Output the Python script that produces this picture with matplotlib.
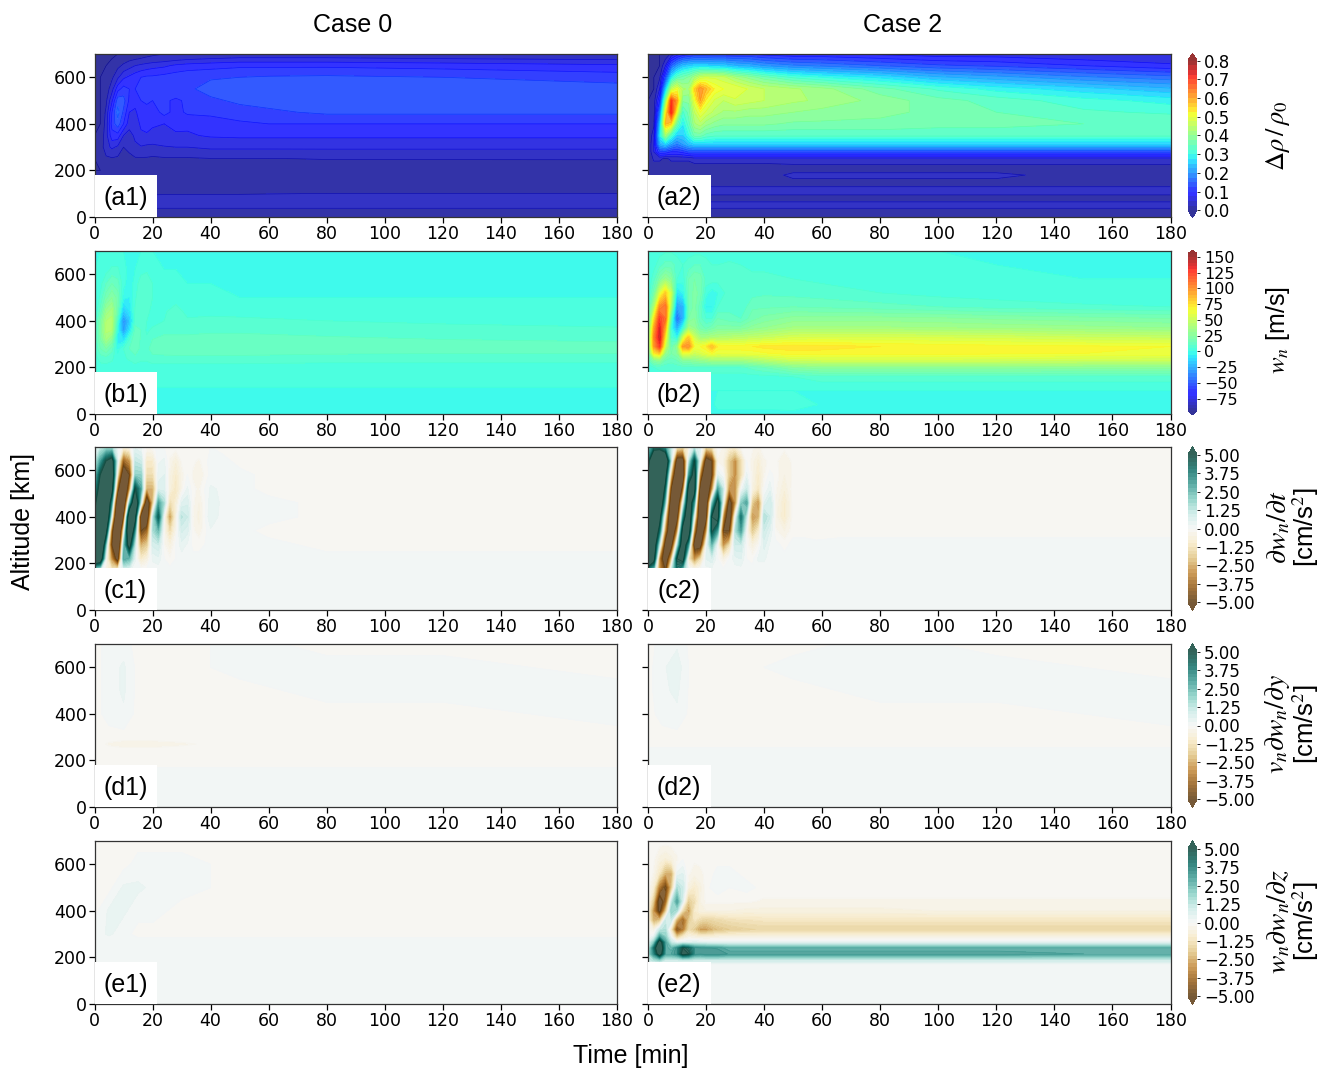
import numpy as np
import matplotlib
matplotlib.use('Agg')
import matplotlib.pyplot as plt
from matplotlib.colors import ListedColormap
from matplotlib.patches import Rectangle

plt.rcParams['mathtext.fontset'] = 'stix'

# values, rows go from the top of the panel down
t_a1 = [0,2,4,6,8,10,12,14,16,18,20,24,28,32,40,50,60,80,120,180]
z_a1 = [700,680,650,600,550,500,450,400,350,300,250,200,130,90,40,0]
a1 = [
 [0,0,0,0,0,0,.005,.01,.015,.02,.022,.025,.026,.028,.03,.03,.03,.03,.03,.03],
 [0,0,0,0,.005,.012,.018,.022,.026,.028,.03,.035,.04,.045,.05,.055,.055,.055,.05,.045],
 [0,0,0,.005,.018,.03,.04,.05,.055,.06,.065,.07,.08,.085,.09,.095,.095,.095,.09,.08],
 [0,0,.005,.02,.045,.07,.08,.09,.1,.105,.105,.11,.115,.12,.122,.125,.128,.13,.125,.115],
 [0,0,.01,.04,.09,.11,.1,.1,.115,.115,.118,.12,.12,.12,.135,.14,.14,.14,.14,.135],
 [0,0,.02,.07,.14,.135,.095,.085,.1,.105,.1,.105,.095,.105,.12,.13,.135,.14,.14,.14],
 [0,0,.03,.1,.16,.12,.075,.07,.09,.09,.085,.11,.09,.105,.105,.115,.12,.13,.13,.13],
 [0,0,.035,.11,.14,.1,.06,.06,.08,.09,.08,.075,.085,.08,.09,.095,.1,.1,.1,.1],
 [0,.005,.04,.09,.09,.05,.04,.055,.07,.07,.065,.07,.07,.072,.078,.08,.08,.08,.08,.08],
 [0,.01,.04,.055,.045,.025,.03,.045,.048,.045,.045,.048,.05,.05,.055,.055,.055,.055,.055,.055],
 [0,.012,.02,.022,.02,.018,.02,.022,.022,.022,.02,.022,.022,.022,.024,.024,.024,.026,.026,.026],
 [0,0,.005,.005,.005,.005,.005,.005,.005,.005,.005,.005,.005,.005,.008,.01,.01,.01,.012,.014],
 [.01,.01,.01,.01,.012,.012,.012,.012,.012,.012,.012,.014,.014,.014,.016,.016,.018,.02,.02,.02],
 [.02,.02,.02,.02,.027,.027,.027,.027,.027,.027,.027,.027,.027,.027,.027,.027,.027,.027,.027,.027],
 [.02,.02,.02,.02,.026,.026,.026,.026,.026,.026,.026,.026,.026,.026,.026,.026,.026,.026,.026,.026],
 [.01,.01,.01,.01,.01,.01,.01,.01,.01,.01,.01,.01,.01,.01,.01,.01,.01,.01,.01,.01],
]

t_a2 = [0,2,4,6,8,10,12,14,16,18,20,23,26,30,35,40,50,60,80,100,120,150,180]
z_a2 = [700,650,600,550,500,450,400,350,310,280,250,210,180,150,110,80,50,0]
a2 = [
 [0,0,0,.005,.03,.06,.08,.09,.1,.1,.1,.1,.1,.1,.1,.09,.08,.08,.07,.06,.06,.05,.05],
 [0,0,0,.05,.15,.2,.24,.25,.26,.26,.26,.25,.25,.23,.22,.2,.18,.17,.15,.13,.12,.1,.08],
 [0,0,.02,.13,.28,.34,.36,.38,.42,.46,.47,.47,.46,.42,.39,.36,.32,.3,.27,.23,.21,.18,.16],
 [0,0,.05,.25,.45,.5,.43,.42,.55,.62,.58,.52,.5,.5,.47,.45,.43,.41,.36,.32,.29,.26,.23],
 [0,.01,.1,.4,.7,.6,.38,.38,.5,.6,.52,.47,.45,.47,.46,.45,.43,.42,.39,.36,.34,.31,.29],
 [0,.01,.17,.52,.72,.5,.32,.36,.45,.5,.47,.44,.42,.42,.41,.41,.4,.39,.38,.37,.35,.33,.32],
 [0,.02,.24,.58,.55,.36,.28,.34,.42,.44,.41,.39,.38,.38,.38,.38,.37,.37,.37,.36,.36,.35,.35],
 [0,.04,.28,.42,.32,.25,.25,.3,.36,.36,.34,.33,.33,.33,.33,.33,.33,.33,.33,.33,.33,.33,.33],
 [0,.05,.22,.25,.2,.17,.2,.23,.25,.25,.25,.25,.25,.25,.25,.25,.25,.25,.25,.25,.25,.25,.25],
 [0,.05,.12,.12,.1,.1,.11,.13,.13,.13,.13,.13,.13,.13,.13,.13,.13,.13,.13,.13,.13,.13,.13],
 [0,.03,.03,.02,.03,.03,.03,.03,.04,.04,.04,.04,.04,.04,.04,.04,.04,.04,.04,.04,.04,.04,.04],
 [0,.01,.01,.01,.01,.01,.01,.01,.01,.01,.01,.01,.01,.01,.01,.01,.015,.015,.015,.015,.015,.015,.015],
 [0,.015,.015,.015,.015,.015,.015,.015,.015,.015,.015,.015,.015,.015,.015,.015,.03,.03,.03,.03,.03,.015,.015],
 [.02,.02,.02,.02,.02,.02,.02,.02,.02,.02,.02,.02,.02,.02,.02,.02,.02,.02,.02,.02,.02,.02,.02],
 [.03,.03,.03,.03,.03,.03,.03,.03,.03,.03,.03,.03,.03,.03,.03,.03,.03,.03,.03,.03,.03,.03,.03],
 [.02,.02,.02,.02,.02,.02,.02,.02,.02,.02,.02,.02,.02,.02,.02,.02,.02,.02,.02,.02,.02,.02,.02],
 [.03,.03,.03,.03,.03,.03,.03,.03,.03,.03,.03,.03,.03,.03,.03,.03,.03,.03,.03,.03,.03,.03,.03],
 [.01,.01,.01,.01,.01,.01,.01,.01,.01,.01,.01,.01,.01,.01,.01,.01,.01,.01,.01,.01,.01,.01,.01],
]

t_b1 = [0,2,4,6,8,10,12,14,16,18,20,24,28,32,40,50,80,120,180]
z_b1 = [700,620,560,500,440,400,360,320,280,240,200,150,80,30,0]
b1 = [
 [0,0,0,0,0,0,0,0,0,0,0,0,0,0,0,0,0,0,0],
 [0,1,3,6,6,1,-1,0,3,4,3,0,0,0,0,0,0,0,0],
 [0,3,10,15,12,2,-3,2,8,9,5,1,1,0,0,0,0,0,0],
 [0,6,18,25,18,-3,-5,4,10,10,5,1,2,1,1,0,0,0,0],
 [0,12,32,38,15,-18,-10,6,10,7,3,4,8,3,3,2,2,1,1],
 [2,20,40,42,5,-35,-18,8,10,5,3,5,9,6,7,7,5,4,3],
 [3,22,42,40,-2,-30,-10,12,10,4,6,8,8,8,9,9,8,7,6],
 [4,20,35,25,-8,-10,5,15,9,6,10,12,12,12,12,12,11,10,9],
 [4,15,20,12,-2,5,10,14,8,8,13,14,15,15,15,15,14,13,13],
 [3,7,8,6,2,4,6,8,6,6,8,8,8,8,8,8,7,7,7],
 [2,3,3,3,2,2,2,3,3,3,3,3,3,3,3,3,3,3,3],
 [1,1,1,1,1,1,1,1,1,1,1,1,1,1,1,1,1,1,1],
 [-1,-1,-1,-1,-1,-1,-1,-1,-1,-1,-1,-1,-1,-1,-1,-1,-1,-1,-1],
 [-3,-3,-3,-3,-3,-3,-3,-3,-3,-3,-3,-2,-3,-3,-3,-3,-3,-3,-3],
 [-2,-2,-2,-2,-2,-2,-2,-2,-2,-2,-2,-2,-2,-2,-2,-2,-2,-2,-2],
]

t_b2 = [0,2,4,6,8,10,12,14,16,18,20,22,24,28,32,36,40,50,60,80,100,120,150,180]
z_b2 = [700,640,580,520,460,410,370,330,290,260,230,200,160,100,40,0]
b2 = [
 [0,1,3,4,4,3,3,3,3,3,3,3,2,2,2,2,2,1,1,0,0,0,0,0],
 [0,3,8,12,12,8,5,7,10,10,7,5,5,6,5,4,4,3,3,2,1,0,0,0],
 [0,8,22,32,25,5,2,15,20,18,8,8,7,7,6,6,6,5,4,3,2,1,0,0],
 [0,18,55,80,50,-10,-5,15,22,18,2,-3,0,8,8,8,9,8,7,5,3,2,1,1],
 [5,40,100,110,40,-30,-25,15,22,12,-5,-5,5,8,6,14,14,15,14,12,10,8,6,5],
 [10,70,125,110,15,-45,-25,20,25,12,5,5,15,12,10,18,22,27,27,27,26,24,22,20],
 [15,90,135,90,0,-25,0,35,30,18,14,18,22,22,22,27,30,36,36,36,35,34,32,30],
 [20,100,140,70,5,-5,50,80,50,35,35,38,40,42,44,46,48,54,55,55,54,53,50,48],
 [20,95,125,50,15,30,95,100,65,65,70,85,70,68,68,70,72,73,72,70,68,67,66,65],
 [15,70,80,30,20,25,60,60,50,55,60,65,60,62,62,62,64,68,68,68,67,66,65,64],
 [8,25,30,15,12,15,25,25,28,30,32,35,35,35,35,38,42,50,52,52,52,52,50,50],
 [3,5,6,6,6,7,7,7,8,8,8,8,8,8,8,12,15,25,28,28,28,28,27,27],
 [3,3,3,3,3,3,3,3,3,3,3,3,3,3,3,3,3,5,8,8,8,8,8,8],
 [0,0,0,0,0,0,0,0,0,0,0,0,0,0,0,0,0,0,0,0,0,0,0,0],
 [-2,-2,-2,-2,-2,-2,-2,-2,-2,-2,-2,-2,3,3,3,3,3,5,-1,-2,-2,-2,-2,-2],
 [-3,-3,-3,-3,-3,-3,-3,-3,-3,-3,-3,-3,-3,-3,-3,-3,-3,-3,-3,-3,-3,-3,-3,-3],
]

t_c1 = [0,2,4,6,8,10,12,14,16,18,20,22,24,26,28,30,32,34,36,40,44,50,60,80,120,180]
z_c = [700,640,580,520,460,400,340,280,220,170,100,0]
c1 = [
 [.5,1,1.5,1.5,.2,-.5,-.3,.4,.2,-.2,-.1,.1,0,-.1,-.1,0,0,-.1,0,0,-.1,-.1,-.1,-.1,-.1,-.1],
 [1,3,5,6,.5,-4,-3,1.2,1,-1,-1,.2,.3,-.3,-.7,-.2,0,-.2,-.3,.1,.1,-.1,-.1,-.1,-.1,-.1],
 [2,5,7,7,-1,-7,-5,2,2,-1.5,-1.5,.4,.5,-.5,-1,-.4,0,-.3,-.5,.1,.2,.1,-.1,-.1,-.1,-.1],
 [3,6,8,6,-4,-9,-3,5,3,-2.5,-2.5,.6,.6,-.6,-1.2,-.3,.3,-.2,-.3,.3,.2,.1,-.1,-.1,-.1,-.1],
 [4,8,9,3,-8,-8,2,8,1,-7,-2,3,1.5,-1.5,-.8,.5,.7,-.2,-.5,.4,.2,.1,.1,-.1,-.1,-.1],
 [5,10,9,0,-10,-5,8,6,-6,-7,1,4.5,0,-2.8,-.5,1.3,1,-.3,-.6,.5,.1,.1,.1,-.1,-.1,-.1],
 [7,10,6,-4,-10,-1,9,3,-5,-4,1.5,2.5,-.3,-1.5,-.3,.8,.6,-.2,-.4,.2,.1,.1,-.1,-.1,-.1,-.1],
 [9,10,2,-5,-9,2,6,1,-2.5,-2,.8,1,-.2,-.6,0,.4,.2,-.1,-.1,.1,.1,.1,.1,-.1,-.1,-.1],
 [8,7,0,-3,-6,3,2.5,.3,-1,-.6,.3,.4,0,-.2,0,.1,.1,.1,.1,.1,.1,.1,.1,.1,.1,.1],
 [1,.5,-.5,-1,-.5,.5,.3,.1,.1,.1,.1,.1,.1,.1,.1,.1,.1,.1,.1,.1,.1,.1,.1,.1,.1,.1],
 [.1,.1,.1,.1,.1,.1,.1,.1,.1,.1,.1,.1,.1,.1,.1,.1,.1,.1,.1,.1,.1,.1,.1,.1,.1,.1],
 [.1,.1,.1,.1,.1,.1,.1,.1,.1,.1,.1,.1,.1,.1,.1,.1,.1,.1,.1,.1,.1,.1,.1,.1,.1,.1],
]

t_c2 = [0,2,4,6,8,10,12,14,16,18,20,22,24,26,28,30,32,34,36,38,40,42,44,47,50,54,58,66,80,120,180]
c2 = [
 [2,4,4,3,1,-1,-1.5,-.5,1,.5,-1.5,-1.2,-.1,-.3,-.8,-.8,-.2,0,-.2,-.3,-.1,-.1,-.1,-.2,-.1,-.1,-.1,-.1,-.1,-.1,-.1],
 [4,8,9,8,1,-6,-6,1,5,0,-6,-5,-.3,-.5,-2,-3,-1.5,0,-.4,-.8,-.3,-.2,-.2,-.4,-.2,-.2,-.2,-.2,-.1,-.1,-.1],
 [5,9,9,6,-2,-8,-7,3,6,-3,-8,-5,.5,0,-2,-3,-1.5,.3,-.4,-1,-.3,.1,-.1,-.5,-.2,-.2,-.2,-.2,-.1,-.1,-.1],
 [6,9,9,4,-5,-9,-4,6,6,-6,-8,-3,3,1,-3,-3,0,1,-.5,-1.2,0,.4,-.2,-.7,-.1,-.2,-.2,-.2,-.1,-.1,-.1],
 [7,9,8,2,-7,-8,0,7,3,-8,-7,2,6,0,-6,-3,2,3,-2,-3,.5,1,-.3,-1,-.1,-.2,-.2,-.2,-.1,-.1,-.1],
 [8,9,6,-1,-8,-6,3,8,0,-8,-6,5,6,-3,-7,0,4,1,-3,-2.5,1.5,1,-.4,-1,-.1,-.2,-.2,-.2,-.1,-.1,-.1],
 [9,8,4,-3,-8,-3,6,7,-3,-8,-3,5,3,-5,-5,1.5,3,0,-2,-1,1,.5,-.2,-.5,-.1,-.1,-.2,-.1,-.1,-.1,-.1],
 [9,7,1,-6,-6,1,7,3,-6,-6,0,2.5,0,-3,-1.5,1,1,-.1,-.6,-.2,.6,.2,.1,-.1,.1,.1,.1,.1,.1,.1,.1],
 [9,6,-3,-7,-2,5,6,-1,-3,-1.5,.5,.7,0,-.5,0,.4,.5,0,-.1,.3,.3,.1,.1,.1,.1,.1,.1,.1,.1,.1,.1],
 [3,2,-3,-5,1,4,2,.1,.1,.1,.1,.1,.1,.1,.1,.1,.1,.1,.1,.1,.1,.1,.1,.1,.1,.1,.1,.1,.1,.1,.1],
 [.1,.1,.1,.1,.1,.1,.1,.1,.1,.1,.1,.1,.1,.1,.1,.1,.1,.1,.1,.1,.1,.1,.1,.1,.1,.1,.1,.1,.1,.1,.1],
 [.1,.1,.1,.1,.1,.1,.1,.1,.1,.1,.1,.1,.1,.1,.1,.1,.1,.1,.1,.1,.1,.1,.1,.1,.1,.1,.1,.1,.1,.1,.1],
]

t_d = [0,5,10,15,20,30,50,80,120,180]
z_d = [700,600,500,400,300,270,240,100,0]
d1 = [
 [-.1,.1,.1,-.1,-.1,-.1,.1,-.1,-.1,-.1],
 [-.1,.1,.3,-.1,-.1,-.1,.1,.1,.1,-.1],
 [-.1,.1,.3,-.1,-.1,-.1,-.1,.1,.1,.1],
 [-.1,.1,.2,-.1,-.1,-.1,-.1,-.1,-.1,.1],
 [-.1,-.1,-.1,-.1,-.1,-.1,-.1,-.1,-.1,-.1],
 [-.1,-.3,-.4,-.4,-.4,-.3,-.1,-.1,-.1,-.1],
 [-.1,-.1,-.1,-.1,-.1,-.1,-.1,-.1,-.1,-.1],
 [.1,.1,.1,.1,.1,.1,.1,.1,.1,.1],
 [.1,.1,.1,.1,.1,.1,.1,.1,.1,.1],
]
d2 = [
 [-.1,.1,.2,-.1,-.1,-.1,-.1,.1,-.1,-.1],
 [-.1,.2,.4,-.1,-.1,-.1,.1,.1,.1,-.1],
 [-.1,.2,.3,-.1,-.1,-.1,-.1,.1,.1,.1],
 [-.1,.1,.2,-.1,-.1,-.1,-.1,-.1,-.1,.1],
 [-.1,-.1,-.1,-.1,-.1,-.1,-.1,-.1,-.1,-.1],
 [-.1,-.1,-.1,-.1,-.1,-.1,-.1,-.1,-.1,-.1],
 [.1,.1,.1,.1,.1,.1,.1,.1,.1,.1],
 [.1,.1,.1,.1,.1,.1,.1,.1,.1,.1],
 [.1,.1,.1,.1,.1,.1,.1,.1,.1,.1],
]
e1 = [
 [-.1,-.1,-.1,-.1,-.1,-.1,-.1,-.1,-.1,-.1],
 [-.1,-.1,-.1,.1,.1,.1,-.1,-.1,-.1,-.1],
 [-.1,-.1,.3,.3,.2,.1,-.1,-.1,-.1,-.1],
 [-.1,.3,.3,.1,.1,-.1,-.1,-.1,-.1,-.1],
 [.1,.3,.1,-.1,-.1,-.1,-.1,-.1,-.1,-.1],
 [.1,.1,.1,.1,.1,.1,.1,.1,.1,.1],
 [.1,.1,.1,.1,.1,.1,.1,.1,.1,.1],
 [.1,.1,.1,.1,.1,.1,.1,.1,.1,.1],
 [.1,.1,.1,.1,.1,.1,.1,.1,.1,.1],
]

t_e2 = [0,2,4,6,8,10,12,14,16,18,20,24,28,34,40,50,60,80,100,120,150,180]
z_e2 = [700,620,560,500,440,400,360,320,290,265,240,215,190,170,100,0]
e2 = [
 [0,-.1,-.1,-.1,-.1,-.1,-.1,-.1,-.1,-.1,-.1,-.1,-.1,-.1,-.1,-.1,-.1,-.1,-.1,-.1,-.1,-.1],
 [0,-.2,-.6,-.8,-.6,-.3,0,-.1,-.2,-.2,-.2,-.1,-.1,-.1,-.1,-.1,-.1,-.1,-.1,-.1,-.1,-.1],
 [0,-.3,-1.2,-2.5,-2.5,.3,.5,-.2,-.4,-.3,-.2,.1,.1,-.1,-.1,-.1,-.1,-.1,-.1,-.1,-.1,-.1],
 [-.1,-.8,-3.5,-5,-2,1.5,1,-.6,-1,-.6,-.1,.2,0,.1,-.1,-.1,-.1,-.1,-.1,-.1,-.1,-.1],
 [-.2,-2,-6,-4,1,3,.5,-2,-1.5,-.5,-.2,-.2,-.2,-.2,-.3,-.3,-.3,-.3,-.3,-.3,-.3,-.3],
 [-.3,-3,-5.5,-2,2,1.5,-1.5,-2.8,-1,-.6,-.5,-.5,-.5,-.6,-.6,-.6,-.6,-.6,-.5,-.5,-.5,-.5],
 [-.3,-2.5,-2,1,1,-2.5,-4,-2,-1.2,-1.6,-1.8,-1.6,-1.4,-1.3,-1.2,-1.2,-1.2,-1.2,-1.2,-1.2,-1.2,-1.2],
 [-.2,-.5,1,1.5,-1,-4.5,-3.5,-1.5,-2,-2.8,-2.8,-2.2,-2,-1.8,-1.7,-1.7,-1.7,-1.7,-1.7,-1.7,-1.7,-1.7],
 [0,.3,3,2,0,-2,-1,-.5,-.6,-.8,-.8,-.6,-.5,-.5,-.5,-.5,-.5,-.5,-.5,-.5,-.5,-.5],
 [.5,2,6,3,1,.3,.5,.5,.6,.5,.4,.3,.3,.3,.3,.3,.3,.3,.3,.3,.3,.3],
 [1,4,7,3,2.5,3.5,5,4.5,3.5,3.3,3.3,3.2,2.8,2.8,2.8,2.8,2.8,2.8,2.8,2.8,2.8,2.8],
 [1.5,3.5,6,3,3,3.5,5.5,5,3.5,3.3,3.5,3.5,3.2,3.2,3.2,3.2,3.2,3.2,3.2,3.2,3,3],
 [1,1.5,2,1,1,1,1.2,1.2,1,1,1,1,1,1,1,1,1,1,1,1,1,1],
 [.15,.15,.15,.15,.15,.15,.15,.15,.15,.15,.15,.15,.15,.15,.15,.15,.15,.15,.15,.15,.15,.15],
 [.15,.15,.15,.15,.15,.15,.15,.15,.15,.15,.15,.15,.15,.15,.15,.15,.15,.15,.15,.15,.15,.15],
 [.1,.1,.1,.1,.1,.1,.1,.1,.1,.1,.1,.1,.1,.1,.1,.1,.1,.1,.1,.1,.1,.1],
]

xticks = [0,20,40,60,80,100,120,140,160,180]
yticks = [0,200,400,600]
rho_ticks = [0.0,0.1,0.2,0.3,0.4,0.5,0.6,0.7,0.8]
rho_labels = ['0.0','0.1','0.2','0.3','0.4','0.5','0.6','0.7','0.8']
w_ticks = [-75,-50,-25,0,25,50,75,100,125,150]
w_labels = ['\u221275','\u221250','\u221225','0','25','50','75','100','125','150']
acc_ticks = [-5,-3.75,-2.5,-1.25,0,1.25,2.5,3.75,5]
acc_labels = ['\u22125.00','\u22123.75','\u22122.50','\u22121.25','0.00','1.25','2.50','3.75','5.00']
panel_names = ['a','b','c','d','e']


def washed(name):
    c = plt.get_cmap(name)(np.linspace(0,1,256))
    c[:,:3] = c[:,:3]*0.8+0.2
    cm = ListedColormap(c)
    cm.set_over(c[-1])
    cm.set_under(c[0])
    return cm


W, H = 1320., 1068.
fig = plt.figure(figsize=(13.2,10.68), dpi=100)
tops = [54,251,447,644,841]
lefts = [94.5,648]
axw, axh = 522.5, 163

rho_levels = np.arange(0,0.8001,0.025)
w_levels = np.arange(-95,156,5)
acc_levels = np.arange(-5,5.001,0.25)

fields = [
    [(t_a1,z_a1,a1),(t_a2,z_a2,a2)],
    [(t_b1,z_b1,b1),(t_b2,z_b2,b2)],
    [(t_c1,z_c,c1),(t_c2,z_c,c2)],
    [(t_d,z_d,d1),(t_d,z_d,d2)],
    [(t_d,z_d,e1),(t_e2,z_e2,e2)],
]
settings = [
    (rho_levels,'jet',rho_ticks,rho_labels,0.047,0.7,12),
    (w_levels,'jet',w_ticks,w_labels,0.02,0.3,11.5),
    (acc_levels,'BrBG',acc_ticks,acc_labels,0.055,0.6,12),
    (acc_levels,'BrBG',acc_ticks,acc_labels,0.055,0.6,12),
    (acc_levels,'BrBG',acc_ticks,acc_labels,0.055,0.6,12),
]

for i in range(5):
    levels, cname, cticks, clabels, efrac, line_alpha, cfont = settings[i]
    for j in range(2):
        t, z, f = fields[i][j]
        ax = fig.add_axes([lefts[j]/W, 1-(tops[i]+axh)/H, axw/W, axh/H])
        cs = ax.contourf(t, z, np.array(f), levels=levels, cmap=washed(cname), extend='both')
        ax.contour(t, z, np.array(f), levels=levels, cmap=cname, linewidths=0.5, alpha=line_alpha)
        ax.set_xlim(0,180)
        ax.set_ylim(0,700)
        ax.set_xticks(xticks)
        ax.set_yticks(yticks)
        ax.tick_params(labelsize=12.5, length=4, pad=1.5, width=0.9)
        if j == 1:
            ax.set_yticklabels([])
        for s in ax.spines.values():
            s.set_linewidth(0.9)
            s.set_color('#333333')
        ax.add_patch(Rectangle((0,0), 62.5/axw, 42/axh, transform=ax.transAxes, fc='white', ec='none', zorder=5))
        ax.text(31/axw, 19/axh, '(%s%d)' % (panel_names[i], j+1), transform=ax.transAxes,
                ha='center', va='center', fontsize=18, family='Liberation Sans', zorder=6)
    cax = fig.add_axes([1188/W, 1-(tops[i]+163.5)/H, 9/W, 164/H])
    cb = fig.colorbar(cs, cax=cax, extendfrac=efrac)
    cb.set_ticks(cticks, labels=clabels)
    cb.ax.minorticks_off()
    cb.ax.tick_params(labelsize=cfont, length=2, pad=3, width=0.6)
    cb.outline.set_linewidth(0)

fig.text(353/W, 1-25/H, 'Case 0', ha='center', va='center', fontsize=18, family='Liberation Sans')
fig.text(903/W, 1-25/H, 'Case 2', ha='center', va='center', fontsize=18, family='Liberation Sans')
fig.text(631/W, 1-1056/H, 'Time [min]', ha='center', va='center', fontsize=18, family='Liberation Sans')
fig.text(23/W, 1-522/H, 'Altitude [km]', ha='center', va='center', rotation=90, fontsize=18, family='Liberation Sans')

side = dict(ha='center', va='center', rotation=90)
fig.text(1278/W, 1-136/H, r'$\Delta\rho\,/\,\rho_0$', fontsize=19, **side)
fig.text(1278/W, 1-330/H, r'$w_n$ [m/s]', fontsize=18, family='Liberation Sans', **side)
fig.text(1278/W, 1-527/H, r'$\partial w_n/\partial t$', fontsize=20, **side)
fig.text(1306/W, 1-527/H, r'[cm/s$^2$]', fontsize=18.5, family='Liberation Sans', **side)
fig.text(1278/W, 1-724/H, r'$v_n\partial w_n/\partial y$', fontsize=20, **side)
fig.text(1306/W, 1-724/H, r'[cm/s$^2$]', fontsize=18.5, family='Liberation Sans', **side)
fig.text(1278/W, 1-921/H, r'$w_n\partial w_n/\partial z$', fontsize=20, **side)
fig.text(1306/W, 1-921/H, r'[cm/s$^2$]', fontsize=18.5, family='Liberation Sans', **side)

fig.savefig('out.png', dpi=100)
